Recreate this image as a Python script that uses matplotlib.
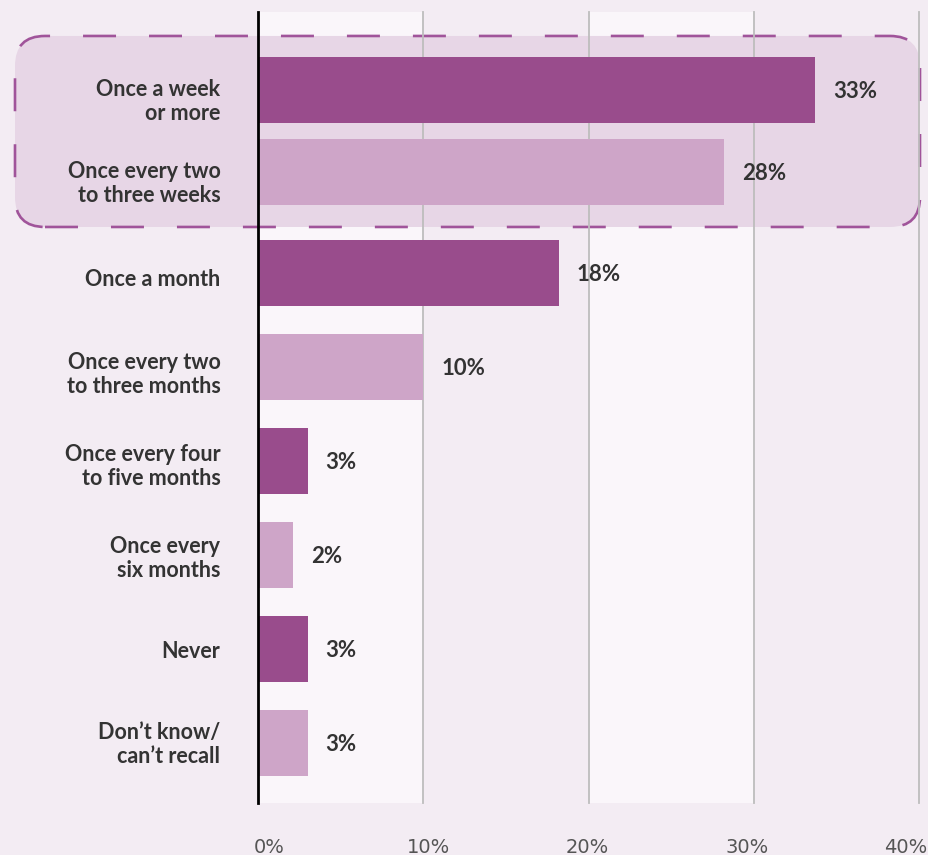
import matplotlib
matplotlib.use("Agg")
import matplotlib.pyplot as plt
from matplotlib.patches import FancyBboxPatch
from matplotlib.transforms import IdentityTransform, ScaledTranslation

categories = [
    "Once a week\nor more",
    "Once every two\nto three weeks",
    "Once a month",
    "Once every two\nto three months",
    "Once every four\nto five months",
    "Once every\nsix months",
    "Never",
    "Don\u2019t know/\ncan\u2019t recall",
]
values = [33.7, 28.2, 18.2, 10.0, 3.0, 2.1, 3.0, 3.0]
value_labels = ["33%", "28%", "18%", "10%", "3%", "2%", "3%", "3%"]
tick_values = [0, 10, 20, 30, 40]
tick_labels = ["0%", "10%", "20%", "30%", "40%"]

# layout (row slots; first two rows grouped tighter)
slots = [0, 0.872, 1.947, 2.947, 3.947, 4.947, 5.947, 6.947]
label_shift_px = [-8, -8, -4, -4, -2, 0, 0, 2]

BG = "#f3ecf3"
BAND = "#faf6fa"
DARK = "#994c8c"
LIGHT = "#cea5c8"
BOX_FILL = "#e7d6e6"
BOX_EDGE = "#a0549a"
GRID = "#bdbdbd"
TEXT = "#333333"

W, H = 929, 855
fig = plt.figure(figsize=(W / 100, H / 100), dpi=100, facecolor=BG)
ax = fig.add_axes([258 / W, (H - 803) / H, (919 - 258) / W, (803 - 12) / H])
ax.set_facecolor(BG)
ax.set_xlim(0, 40)
ax.set_ylim(7.585, -0.830)

# alternating bands
for a, b in [(0, 10), (20, 30)]:
    ax.axvspan(a, b, color=BAND, zorder=0, lw=0)
# gridlines
for t in tick_values[1:]:
    ax.axvline(t, color=GRID, lw=1.3, zorder=1, clip_on=False)

for s in ["top", "right", "bottom"]:
    ax.spines[s].set_visible(False)
ax.spines["left"].set_color("black")
ax.spines["left"].set_linewidth(2)
ax.spines["left"].set_zorder(4)

colors = [DARK if i % 2 == 0 else LIGHT for i in range(len(values))]
ax.barh(slots, values, height=0.70, color=colors, zorder=2)

for v, p, lab in zip(values, slots, value_labels):
    ax.annotate(lab, (v, p), xytext=(13, -1), textcoords="offset points",
                va="center", ha="left", fontsize=16, fontweight="bold",
                color=TEXT, family=["Lato", "DejaVu Sans"])

ax.set_yticks(slots)
ax.set_yticklabels(categories, fontsize=15.5, fontweight="bold", color=TEXT,
                   family=["Lato", "DejaVu Sans"], linespacing=1.2)
ax.tick_params(axis="y", length=0, pad=27)
for sh, lab in zip(label_shift_px, ax.get_yticklabels()):
    lab.set_transform(lab.get_transform() + ScaledTranslation(0, sh / 100, fig.dpi_scale_trans))

ax.set_xticks(tick_values)
ax.set_xticklabels(tick_labels, fontsize=14, color="#555555")
ax.tick_params(axis="x", length=0, pad=25)
for v, lab in zip(tick_values, ax.get_xticklabels()):
    dx = (11 - 0.6 * v) / 100
    lab.set_transform(lab.get_transform() + ScaledTranslation(dx, 0, fig.dpi_scale_trans))

# highlight box around first two rows
fig.canvas.draw()
y_top = ax.transData.transform((0, slots[0] - 0.575))[1]
y_bot = ax.transData.transform((0, slots[1] + 0.585))[1]
x_right = ax.transData.transform((40, 0))[0] + 1
x_left = 15
box = FancyBboxPatch((x_left, y_bot), x_right - x_left, y_top - y_bot,
                     boxstyle="round,pad=0,rounding_size=30",
                     transform=IdentityTransform(), facecolor=BOX_FILL,
                     edgecolor=BOX_EDGE, lw=1.9, linestyle=(0, (12.5, 12.5)),
                     zorder=0.5, clip_on=False)
ax.add_patch(box)

fig.savefig("out.png", dpi=100, facecolor=BG)
